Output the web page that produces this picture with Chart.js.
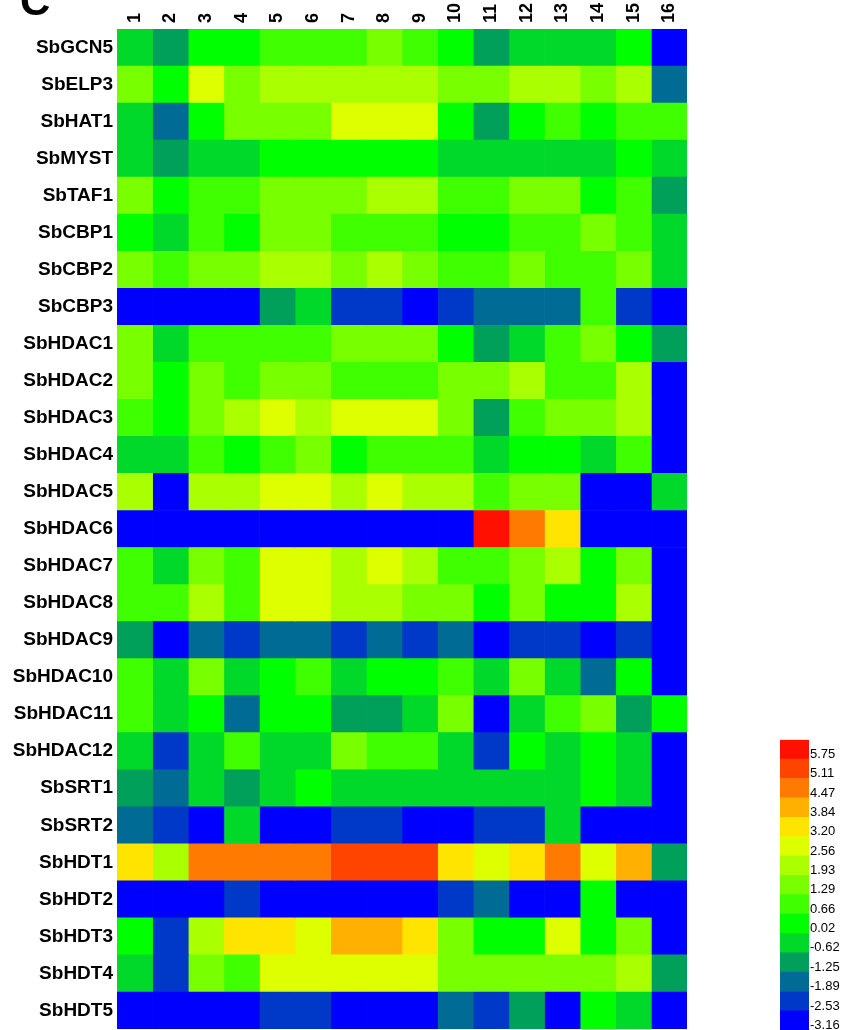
<!DOCTYPE html>
<html>
<head>
<meta charset="utf-8">
<script src="https://cdn.jsdelivr.net/npm/chart.js@4.4.1/dist/chart.umd.min.js"></script>
<style>
    body { margin: 0; background: #fff; }
    #page { position: relative; width: 851px; height: 1030px; overflow: hidden; }
    #heat { position: absolute; left: 0; top: 0; width: 851px; height: 1030px; }
    #key { position: absolute; left: 780px; top: 731px; width: 71px; height: 308px; }
    #panel {
        position: absolute; left: 20px; top: -20px;
        font: bold 42px 'Liberation Sans', Arial, sans-serif; line-height: 42px; color: #000;
    }
</style>
</head>
<body>
<div id="page">
    <div id="heat"><canvas id="graphique"></canvas></div>
    <div id="key"><canvas id="echelle"></canvas></div>
    <div id="panel">C</div>
</div>
<script>
const genes = ['SbGCN5', 'SbELP3', 'SbHAT1', 'SbMYST', 'SbTAF1', 'SbCBP1', 'SbCBP2', 'SbCBP3',
    'SbHDAC1', 'SbHDAC2', 'SbHDAC3', 'SbHDAC4', 'SbHDAC5', 'SbHDAC6', 'SbHDAC7', 'SbHDAC8',
    'SbHDAC9', 'SbHDAC10', 'SbHDAC11', 'SbHDAC12', 'SbSRT1', 'SbSRT2',
    'SbHDT1', 'SbHDT2', 'SbHDT3', 'SbHDT4', 'SbHDT5'];

const colonnes = ['1', '2', '3', '4', '5', '6', '7', '8', '9', '10', '11', '12', '13', '14', '15', '16'];

// une ligne par gène, une valeur par colonne (au palier de couleur près)
const valeurs = [
    [-0.62, -1.25, 0.02, 0.02, 0.66, 0.66, 0.66, 1.29, 0.66, 0.02, -1.25, -0.62, -0.62, -0.62, 0.02, -3.16],
    [1.29, 0.02, 2.56, 1.29, 1.93, 1.93, 1.93, 1.93, 1.93, 1.29, 1.29, 1.93, 1.93, 1.29, 1.93, -1.89],
    [-0.62, -1.89, 0.02, 1.29, 1.29, 1.29, 2.56, 2.56, 2.56, 0.02, -1.25, 0.02, 0.66, 0.02, 0.66, 0.66],
    [-0.62, -1.25, -0.62, -0.62, 0.02, 0.02, 0.02, 0.02, 0.02, -0.62, -0.62, -0.62, -0.62, -0.62, 0.02, -0.62],
    [1.29, 0.02, 0.66, 0.66, 1.29, 1.29, 1.29, 1.93, 1.93, 0.66, 0.66, 1.29, 1.29, 0.02, 0.66, -1.25],
    [0.02, -0.62, 0.66, 0.02, 1.29, 1.29, 0.66, 0.66, 0.66, 0.02, 0.02, 0.66, 0.66, 1.29, 0.66, -0.62],
    [1.29, 0.66, 1.29, 1.29, 1.93, 1.93, 1.29, 1.93, 1.29, 0.66, 0.66, 1.29, 0.66, 0.66, 1.29, -0.62],
    [-3.16, -3.16, -3.16, -3.16, -1.25, -0.62, -2.53, -2.53, -3.16, -2.53, -1.89, -1.89, -1.89, 0.66, -2.53, -3.16],
    [1.29, -0.62, 0.66, 0.66, 0.66, 0.66, 1.29, 1.29, 1.29, 0.02, -1.25, -0.62, 0.66, 1.29, 0.02, -1.25],
    [1.29, 0.02, 1.29, 0.66, 1.29, 1.29, 0.66, 0.66, 0.66, 1.29, 1.29, 1.93, 0.66, 0.66, 1.93, -3.16],
    [0.66, 0.02, 1.29, 1.93, 2.56, 1.93, 2.56, 2.56, 2.56, 1.29, -1.25, 0.66, 1.29, 1.29, 1.93, -3.16],
    [-0.62, -0.62, 0.66, 0.02, 0.66, 1.29, 0.02, 0.66, 0.66, 0.66, -0.62, 0.02, 0.02, -0.62, 0.66, -3.16],
    [1.93, -3.16, 1.93, 1.93, 2.56, 2.56, 1.93, 2.56, 1.93, 1.93, 0.66, 1.29, 1.29, -3.16, -3.16, -0.62],
    [-3.16, -3.16, -3.16, -3.16, -3.16, -3.16, -3.16, -3.16, -3.16, -3.16, 5.75, 4.47, 3.20, -3.16, -3.16, -3.16],
    [0.66, -0.62, 1.29, 0.66, 2.56, 2.56, 1.93, 2.56, 1.93, 0.66, 0.66, 1.29, 1.93, 0.02, 1.29, -3.16],
    [0.66, 0.66, 1.93, 0.66, 2.56, 2.56, 1.93, 1.93, 1.29, 1.29, 0.02, 1.29, 0.02, 0.02, 1.93, -3.16],
    [-1.25, -3.16, -1.89, -2.53, -1.89, -1.89, -2.53, -1.89, -2.53, -1.89, -3.16, -2.53, -2.53, -3.16, -2.53, -3.16],
    [0.66, -0.62, 1.29, -0.62, 0.02, 0.66, -0.62, 0.02, 0.02, 0.66, -0.62, 1.29, -0.62, -1.89, 0.02, -3.16],
    [0.66, -0.62, 0.02, -1.89, 0.02, 0.02, -1.25, -1.25, -0.62, 1.29, -3.16, -0.62, 0.66, 1.29, -1.25, 0.02],
    [-0.62, -2.53, -0.62, 0.66, -0.62, -0.62, 1.29, 0.66, 0.66, -0.62, -2.53, 0.02, -0.62, 0.02, -0.62, -3.16],
    [-1.25, -1.89, -0.62, -1.25, -0.62, 0.02, -0.62, -0.62, -0.62, -0.62, -0.62, -0.62, -0.62, 0.02, -0.62, -3.16],
    [-1.89, -2.53, -3.16, -0.62, -3.16, -3.16, -2.53, -2.53, -3.16, -3.16, -2.53, -2.53, -0.62, -3.16, -3.16, -3.16],
    [3.20, 1.93, 4.47, 4.47, 4.47, 4.47, 5.11, 5.11, 5.11, 3.20, 2.56, 3.20, 4.47, 2.56, 3.84, -1.25],
    [-3.16, -3.16, -3.16, -2.53, -3.16, -3.16, -3.16, -3.16, -3.16, -2.53, -1.89, -3.16, -3.16, 0.02, -3.16, -3.16],
    [0.02, -2.53, 1.93, 3.20, 3.20, 2.56, 3.84, 3.84, 3.20, 1.29, 0.02, 0.02, 2.56, 0.02, 1.29, -3.16],
    [-0.62, -2.53, 1.29, 0.66, 2.56, 2.56, 2.56, 2.56, 2.56, 1.29, 1.29, 1.29, 1.29, 1.29, 1.93, -1.25],
    [-3.16, -3.16, -3.16, -3.16, -2.53, -2.53, -3.16, -3.16, -3.16, -1.89, -2.53, -1.25, -3.16, 0.02, -0.62, -3.16]
];

// paliers de l'échelle, du bas (bleu) vers le haut (rouge)
const paliers = [-3.16, -2.53, -1.89, -1.25, -0.62, 0.02, 0.66, 1.29, 1.93, 2.56, 3.20, 3.84, 4.47, 5.11, 5.75];
const couleurs = ['#0000ff', '#0038c8', '#006c96', '#00a05a', '#00d82a', '#00ff00', '#40ff00', '#78ff00',
    '#aaff00', '#ddff00', '#ffe400', '#ffb000', '#ff7a00', '#ff4400', '#ff1000'];

const police = "'Liberation Sans', Arial, sans-serif";

/**
 * Retourne la couleur du palier le plus proche de la valeur
 */
function couleurPour(v) {
    let best = 0;
    for (let i = 1; i < paliers.length; i++) {
        if (Math.abs(paliers[i] - v) < Math.abs(paliers[best] - v)) {
            best = i;
        }
    }
    return couleurs[best];
}

/**
 * Supprime les marges que Chart.js réserve pour les étiquettes extrêmes
 */
function sansMarges(axis) {
    axis.paddingTop = 0;
    axis.paddingBottom = 0;
    axis.paddingLeft = 0;
    axis.paddingRight = 0;
}

const datasets = colonnes.map((col, j) => ({
    label: col,
    data: genes.map(() => 1),
    backgroundColor: valeurs.map(ligne => couleurPour(ligne[j])),
    borderWidth: 0,
    barPercentage: 1,
    categoryPercentage: 1
}));

new Chart(document.getElementById('graphique').getContext('2d'), {
    type: 'bar',
    data: {labels: genes, datasets: datasets},
    options: {
        indexAxis: 'y',
        responsive: true,
        maintainAspectRatio: false,
        animation: false,
        layout: {padding: {left: 0, right: 164, top: 0, bottom: 1}},
        plugins: {legend: {display: false}, tooltip: {enabled: false}},
        scales: {
            x: {
                type: 'linear',
                position: 'top',
                stacked: true,
                min: 0,
                max: 16,
                grid: {display: false, drawTicks: false},
                border: {display: false},
                afterBuildTicks: axis => {
                    axis.ticks = colonnes.map((c, i) => ({value: i + 0.5}));
                },
                afterFit: axis => {
                    axis.height = 29;
                    sansMarges(axis);
                },
                ticks: {
                    autoSkip: false,
                    minRotation: 90,
                    maxRotation: 90,
                    padding: 6,
                    labelOffset: 21.6,
                    color: '#000',
                    font: {family: police, size: 18, weight: 'bold', lineHeight: 1.2},
                    callback: (value, index) => colonnes[index]
                }
            },
            y: {
                stacked: true,
                grid: {display: false, drawTicks: false},
                border: {display: false},
                afterFit: axis => {
                    axis.width = 117;
                    sansMarges(axis);
                },
                ticks: {
                    padding: 4,
                    color: '#000',
                    font: {family: police, size: 19, weight: 'bold'}
                }
            }
        }
    }
});

// échelle de couleurs
new Chart(document.getElementById('echelle').getContext('2d'), {
    type: 'bar',
    data: {
        labels: [''],
        datasets: paliers.map((p, k) => ({
            label: String(p),
            data: [1],
            backgroundColor: couleurs[k],
            borderWidth: 0,
            barPercentage: 1,
            categoryPercentage: 1
        }))
    },
    options: {
        responsive: true,
        maintainAspectRatio: false,
        animation: false,
        layout: {padding: 0},
        plugins: {legend: {display: false}, tooltip: {enabled: false}},
        scales: {
            x: {display: false, stacked: true},
            y: {
                stacked: true,
                position: 'right',
                min: 0,
                max: paliers.length,
                grid: {display: false, drawTicks: false},
                border: {display: false},
                afterBuildTicks: axis => {
                    axis.ticks = paliers.map((p, k) => ({value: k + 0.25}));
                },
                afterFit: axis => {
                    axis.width = 42;
                },
                ticks: {
                    padding: 1,
                    color: '#000',
                    font: {family: police, size: 13},
                    callback: (value, index) => paliers[index].toFixed(2)
                }
            }
        }
    }
});
</script>
</body>
</html>
